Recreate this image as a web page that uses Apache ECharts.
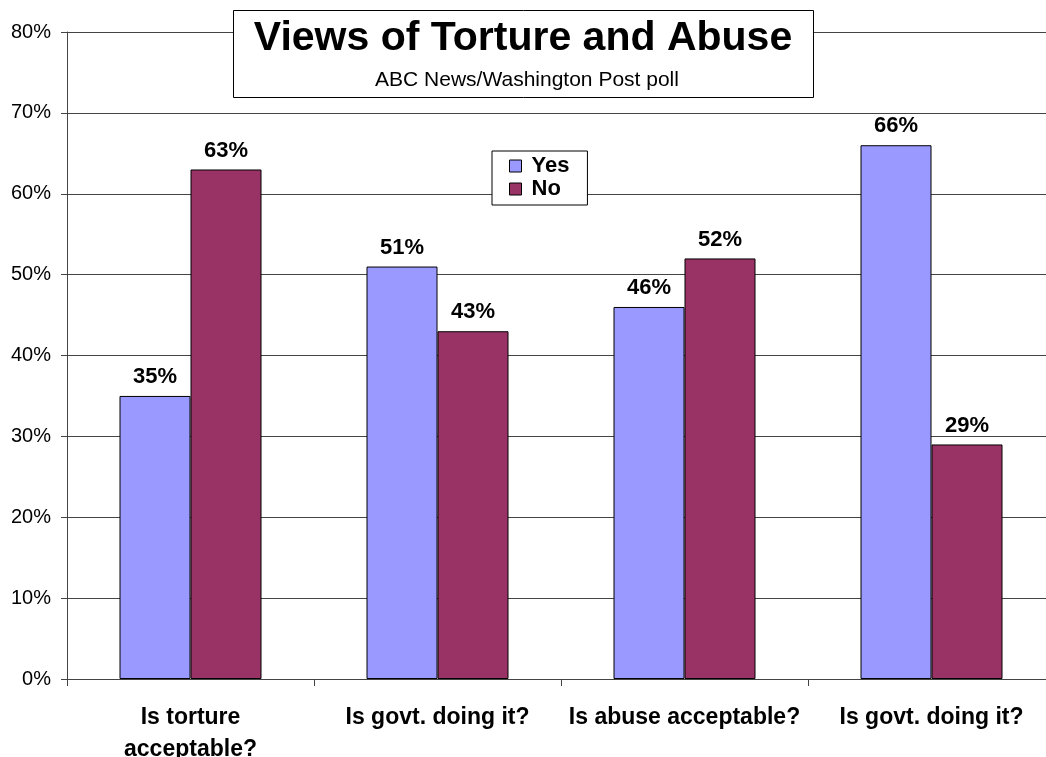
<!DOCTYPE html>
<html><head><meta charset="utf-8">
<script src="https://cdn.jsdelivr.net/npm/echarts@6/dist/echarts.min.js"></script>
<style>html,body{margin:0;padding:0;background:#fff}#c{width:1046px;height:757px}</style>
</head><body><div id="c"></div>
<script>
const categories = ['Is torture\nacceptable?', 'Is govt. doing it?', 'Is abuse acceptable?', 'Is govt. doing it?'];
const yesValues = [35, 51, 46, 66];
const noValues = [63, 43, 52, 29];
const yTicks = [0, 10, 20, 30, 40, 50, 60, 70, 80];
const titleText = 'Views of Torture and Abuse';
const subtitleText = 'ABC News/Washington Post poll';

const chart = echarts.init(document.getElementById('c'));
const font = 'Liberation Sans, Arial, sans-serif';
const lbl = {show: true, position: 'top', distance: 8, formatter: '{c}%', fontFamily: font, fontWeight: 'bold', fontSize: 22, color: '#000'};
chart.setOption({
  animation: false,
  grid: {left: 67, right: -9, top: 32, bottom: 78, containLabel: false, outerBoundsMode: 'none'},
  xAxis: {
    type: 'category', data: categories,
    axisLine: {lineStyle: {color: '#444', width: 1}},
    axisTick: {show: true, length: 7, lineStyle: {color: '#444'}},
    axisLabel: {fontFamily: font, fontWeight: 'bold', fontSize: 23, color: '#000', margin: 23, lineHeight: 32, interval: 0}
  },
  yAxis: {
    type: 'value', min: yTicks[0], max: yTicks[yTicks.length - 1], interval: 10,
    axisLine: {show: true, lineStyle: {color: '#444'}},
    axisTick: {show: true, length: 6, lineStyle: {color: '#444'}},
    axisLabel: {formatter: '{value}%', fontFamily: font, fontSize: 20, color: '#000', margin: 16},
    splitLine: {show: true, lineStyle: {color: '#444', width: 1}}
  },
  legend: {
    orient: 'vertical', left: 492, top: 151,
    backgroundColor: '#fff', borderColor: '#000', borderWidth: 1,
    padding: [4, 18, 5, 17], itemGap: 1, itemWidth: 12, itemHeight: 12,
    icon: 'rect',
    itemStyle: {borderColor: '#000', borderWidth: 1},
    textStyle: {fontFamily: font, fontWeight: 'bold', fontSize: 22, color: '#000', padding: [0, 0, 0, 5]},
    data: ['Yes', 'No']
  },
  series: [
    {name: 'Yes', type: 'bar', data: yesValues, barWidth: 71, barGap: '0%',
     itemStyle: {color: '#9999FF', borderColor: '#000', borderWidth: 1}, label: lbl},
    {name: 'No', type: 'bar', data: noValues, barWidth: 71,
     itemStyle: {color: '#993366', borderColor: '#000', borderWidth: 1}, label: lbl}
  ],
  graphic: [
    {type: 'rect', shape: {x: 233.5, y: 10.5, width: 580, height: 87}, style: {fill: '#fff', stroke: '#000', lineWidth: 1}, z: 100},
    {type: 'text', x: 523, y: 39, z: 101, style: {text: titleText, font: 'bold 41px ' + font, fill: '#000', align: 'center', verticalAlign: 'middle'}},
    {type: 'text', x: 527, y: 80, z: 101, style: {text: subtitleText, font: '21px ' + font, fill: '#000', align: 'center', verticalAlign: 'middle'}}
  ]
});
</script></body></html>
